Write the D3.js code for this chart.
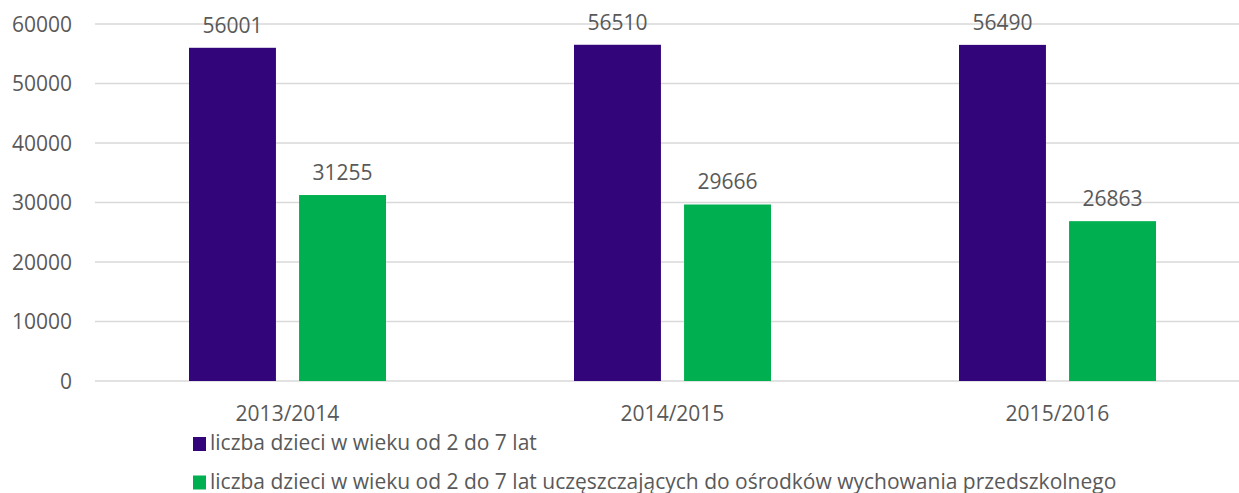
<!DOCTYPE html>
<html>
<head>
<meta charset="utf-8">
<script src="https://cdn.jsdelivr.net/npm/d3@7"></script>
<style>
  body { margin: 0; background: #fff; }
  text { font-family: "Open Sans", sans-serif; fill: #595959; }
</style>
</head>
<body>
<div id="chart" style="width:1239px;height:493px"></div>
<script>
// data
const years = ["2013/2014", "2014/2015", "2015/2016"];
const series = [
    "liczba dzieci w wieku od 2 do 7 lat",
    "liczba dzieci w wieku od 2 do 7 lat uczęszczających do ośrodków wychowania przedszkolnego"
];
const allChildren = [56001, 56510, 56490];
const attending = [31255, 29666, 26863];
const yTicks = [0, 10000, 20000, 30000, 40000, 50000, 60000];
const colors = ["#32067a", "#00b050"];

const width = 1239, height = 493;
const margin = { top: 24, left: 95, right: -11, bottom: 112 };
const fontSize = "21px";

const svg = d3.select("#chart")
    .append("svg")
    .attr("width", width)
    .attr("height", height);

const xScale = d3.scaleBand()
    .domain(years)
    .range([margin.left, width - margin.right]);

//bars inside one category
const inner = d3.scaleBand()
    .domain([0, 1])
    .range([94, 291])
    .paddingInner(0.21);

const yScale = d3.scaleLinear()
    .domain([0, 60000])
    .range([height - margin.bottom, margin.top]);

// gridlines
svg.append("g")
    .selectAll("line")
    .data(yTicks)
    .enter()
    .append("line")
    .attr("x1", margin.left)
    .attr("x2", width)
    .attr("y1", d => yScale(d))
    .attr("y2", d => yScale(d))
    .attr("stroke", "#d9d9d9")
    .attr("stroke-width", 1.3);

let yAxis = svg.append("g")
    .attr("transform", `translate(${margin.left - 23},0)`)
    .call(d3.axisLeft(yScale).tickValues(yTicks).tickSize(0).tickPadding(0).tickFormat(d3.format("d")));
yAxis.select(".domain").remove();
yAxis.selectAll("text").style("font-size", fontSize).attr("dy", "0.35em");

const rows = years.map((y, i) => ({ year: y, values: [allChildren[i], attending[i]] }));

const groups = svg.selectAll(".grp")
    .data(rows)
    .enter()
    .append("g")
    .attr("transform", d => `translate(${xScale(d.year)},0)`);

groups.selectAll("rect")
    .data(d => d.values)
    .enter()
    .append("rect")
    .attr("x", (d, i) => inner(i))
    .attr("width", inner.bandwidth())
    .attr("y", d => yScale(d))
    .attr("height", d => yScale(0) - yScale(d))
    .attr("fill", (d, i) => colors[i]);

groups.selectAll(".val")
    .data(d => d.values)
    .enter()
    .append("text")
    .attr("x", (d, i) => inner(i) + inner.bandwidth() / 2)
    .attr("y", d => yScale(d) - 15)
    .attr("text-anchor", "middle")
    .style("font-size", fontSize)
    .text(d => d);

// category labels
svg.append("g")
    .selectAll("text")
    .data(years)
    .enter()
    .append("text")
    .attr("x", d => xScale(d) + xScale.bandwidth() / 2)
    .attr("y", 421)
    .attr("text-anchor", "middle")
    .style("font-size", fontSize)
    .text(d => d);

// legend
const legend = svg.append("g")
    .selectAll("g")
    .data(series)
    .enter()
    .append("g")
    .attr("transform", (d, i) => `translate(193,${437 + i * 38.5})`);

legend.append("rect")
    .attr("width", 13)
    .attr("height", 14)
    .attr("fill", (d, i) => colors[i]);

legend.append("text")
    .attr("x", 17)
    .attr("y", 13)
    .style("font-size", fontSize)
    .text(d => d);
</script>
</body>
</html>
